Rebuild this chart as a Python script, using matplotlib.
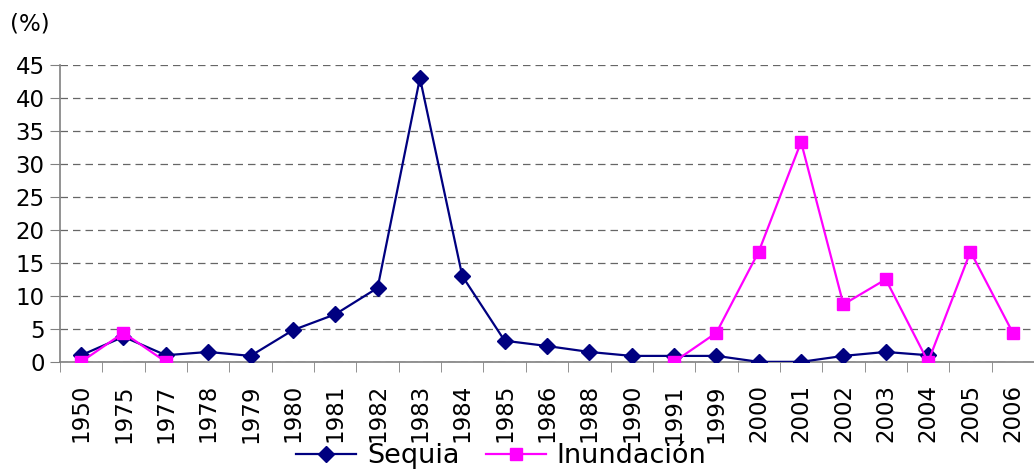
import numpy as np
import matplotlib
matplotlib.use("Agg")
import matplotlib.pyplot as plt

years = ["1950", "1975", "1977", "1978", "1979", "1980", "1981", "1982", "1983",
         "1984", "1985", "1986", "1988", "1990", "1991", "1999", "2000", "2001",
         "2002", "2003", "2004", "2005", "2006"]
sequia = [1.0, 3.8, 1.0, 1.5, 0.9, 4.8, 7.2, 11.2, 43.0, 13.0, 3.2, 2.4, 1.5,
          0.9, 0.9, 0.9, 0.0, 0.0, 0.9, 1.5, 1.0, np.nan, np.nan]
inundacion = [0.0, 4.4, 0.0, np.nan, np.nan, np.nan, np.nan, np.nan, np.nan,
              np.nan, np.nan, np.nan, np.nan, np.nan, 0.0, 4.4, 16.7, 33.3,
              8.7, 12.5, 0.0, 16.7, 4.4]
y_ticks = [0, 5, 10, 15, 20, 25, 30, 35, 40, 45]

plt.rcParams["font.family"] = "DejaVu Sans"

fig = plt.figure(figsize=(10.34, 4.73), dpi=100)
ax = fig.add_axes([0.058, 0.235, 0.942, 0.628])

x = np.arange(len(years))
ax.plot(x, sequia, color="#000080", marker="D", markersize=8, linewidth=1.6,
        label="Sequia", zorder=3)
ax.plot(x, inundacion, color="#FF00FF", marker="s", markersize=8.5,
        linewidth=1.6, label="Inundación", zorder=4)

ax.set_xlim(-0.5, len(years) - 0.5)
ax.set_ylim(0, 45)
ax.set_yticks(y_ticks)
ax.tick_params(axis="y", labelsize=16.5, length=7, color="#808080", pad=4)
ax.yaxis.grid(True, linestyle=(0, (6, 4)), color="#666666", linewidth=0.9)
ax.set_axisbelow(True)

# category labels in the middle, tick marks on the boundaries
ax.set_xticks(x)
ax.set_xticklabels(years, rotation=90, fontsize=16.5)
ax.tick_params(axis="x", which="major", length=0, pad=16)
ax.set_xticks(np.arange(-0.5, len(years), 1), minor=True)
ax.tick_params(axis="x", which="minor", length=7, color="#808080")

for side in ["top", "right"]:
    ax.spines[side].set_visible(False)
for side in ["left", "bottom"]:
    ax.spines[side].set_color("#808080")
    ax.spines[side].set_linewidth(1.2)

fig.text(0.01, 0.935, "(%)", fontsize=16.5)

fig.legend(loc="center", bbox_to_anchor=(0.485, 0.035), ncol=2, frameon=False,
           fontsize=19.5, handlelength=2.2, columnspacing=1.0, handletextpad=0.4,
           borderpad=0)

fig.savefig("out.png", dpi=100)
